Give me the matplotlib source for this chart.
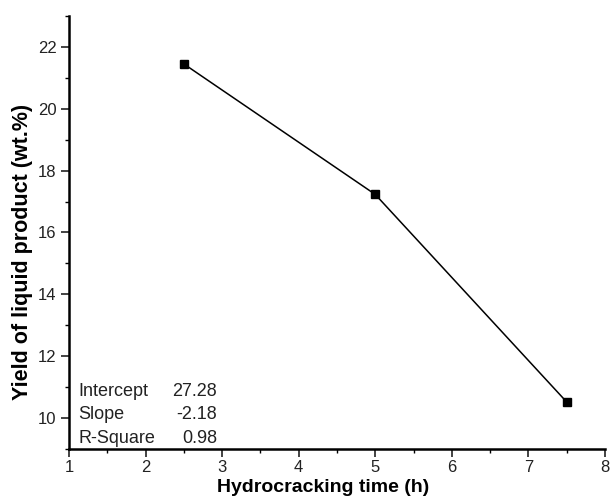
import matplotlib.pyplot as plt
from matplotlib.ticker import MultipleLocator

plt.rcParams['font.family'] = ['Liberation Sans', 'DejaVu Sans']

# --- data ---
time_h = [2.5, 5.0, 7.5]
yield_wt = [21.45, 17.23, 10.52]

fit_labels = ['Intercept', 'Slope', 'R-Square']
fit_values = ['27.28', '-2.18', '0.98']

fig = plt.figure(figsize=(6.11, 5.01), dpi=100)
ax = fig.add_axes([0.113, 0.104, 0.877, 0.864])

ax.plot(time_h, yield_wt, color='black', linewidth=1.1,
        marker='s', markersize=6, markerfacecolor='black')

ax.set_xlim(1, 8)
ax.set_ylim(9, 23)
ax.xaxis.set_major_locator(MultipleLocator(1))
ax.xaxis.set_minor_locator(MultipleLocator(0.5))
ax.yaxis.set_major_locator(MultipleLocator(2))
ax.yaxis.set_minor_locator(MultipleLocator(1))

for side in ['top', 'right']:
    ax.spines[side].set_visible(False)
for side in ['left', 'bottom']:
    ax.spines[side].set_linewidth(1.8)

ax.tick_params(which='major', direction='out', length=6, width=1.2,
               labelsize=12, colors='#222222')
ax.tick_params(axis='x', which='major', pad=2)
ax.tick_params(axis='y', which='major', pad=3)
ax.tick_params(which='minor', direction='out', length=3, width=1.0)

ax.set_xlabel('Hydrocracking time (h)', fontsize=14, fontweight='bold')
ax.set_ylabel('Yield of liquid product (wt.%)', fontsize=15.5, fontweight='bold')
ax.xaxis.set_label_coords(0.474, -0.07)
ax.yaxis.set_label_coords(-0.067, 0.455)

# fit summary table
for i, (lab, val) in enumerate(zip(fit_labels, fit_values)):
    yy = 0.1224 - i * 0.0542
    ax.text(0.0168, yy, lab, transform=ax.transAxes, fontsize=13,
            va='baseline', ha='left', color='#222222')
    ax.text(0.276, yy, val, transform=ax.transAxes, fontsize=13,
            va='baseline', ha='right', color='#222222')

fig.savefig('out.png', dpi=100)
